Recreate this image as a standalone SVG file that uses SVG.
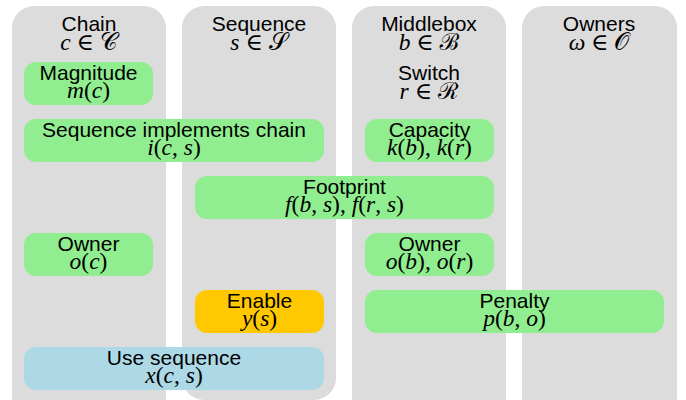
<svg xmlns="http://www.w3.org/2000/svg" width="686" height="400" viewBox="0 0 686 400">
<style>
.col{fill:#dcdcdc}
.g{fill:#90ee90}
.o{fill:#ffc800}
.b{fill:#add8e6}
.t{font-family:"Liberation Sans",Arial,sans-serif;font-size:21px;fill:#000;text-anchor:middle}
.m{font-family:"Liberation Serif","DejaVu Serif",serif;font-size:23.5px;fill:#000;text-anchor:middle}
.i{font-style:italic}
.s{font-family:"DejaVu Serif","Noto Sans",serif;font-style:normal}
</style>
<rect width="686" height="400" fill="#fff"/>
<g id="col-chain">
<rect class="col" x="12" y="6" width="154" height="420" rx="22"/>
<text class="t" x="89" y="31">Chain</text>
<text class="m" x="89" y="50"><tspan class="i">c</tspan> ∈ <tspan class="s">𝒞</tspan></text>
</g>
<g id="col-sequence">
<rect class="col" x="182" y="6" width="154" height="394" rx="22"/>
<text class="t" x="259" y="31">Sequence</text>
<text class="m" x="259" y="50"><tspan class="i">s</tspan> ∈ <tspan class="s">𝒮</tspan></text>
</g>
<g id="col-middlebox">
<rect class="col" x="352" y="6" width="154" height="420" rx="22"/>
<text class="t" x="429" y="31">Middlebox</text>
<text class="m" x="429" y="50"><tspan class="i">b</tspan> ∈ <tspan class="s">ℬ</tspan></text>
<text class="t" x="429" y="80">Switch</text>
<text class="m" x="429" y="99"><tspan class="i">r</tspan> ∈ <tspan class="s">ℛ</tspan></text>
</g>
<g id="col-owners">
<rect class="col" x="522" y="6" width="155" height="420" rx="22"/>
<text class="t" x="599" y="31">Owners</text>
<text class="m" x="599" y="50"><tspan class="i">ω</tspan> ∈ <tspan class="s">𝒪</tspan></text>
</g>
<g id="connectors"></g>
<g id="magnitude">
<rect class="g" x="24" y="62" width="129" height="43" rx="12"/>
<text class="t" x="88.5" y="80">Magnitude</text>
<text class="m" x="88.5" y="98"><tspan class="i">m</tspan>(<tspan class="i">c</tspan>)</text>
</g>
<g id="implements">
<rect class="g" x="24" y="119" width="300" height="43" rx="12"/>
<text class="t" x="174" y="137">Sequence implements chain</text>
<text class="m" x="174" y="155"><tspan class="i">i</tspan>(<tspan class="i">c</tspan>, <tspan class="i">s</tspan>)</text>
</g>
<g id="capacity">
<rect class="g" x="365" y="119" width="129" height="43" rx="12"/>
<text class="t" x="429.5" y="137">Capacity</text>
<text class="m" x="429.5" y="155"><tspan class="i">k</tspan>(<tspan class="i">b</tspan>), <tspan class="i">k</tspan>(<tspan class="i">r</tspan>)</text>
</g>
<g id="footprint">
<rect class="g" x="195" y="176" width="299" height="43" rx="12"/>
<text class="t" x="344.5" y="194">Footprint</text>
<text class="m" x="344.5" y="212"><tspan class="i">f</tspan>(<tspan class="i">b</tspan>, <tspan class="i">s</tspan>), <tspan class="i">f</tspan>(<tspan class="i">r</tspan>, <tspan class="i">s</tspan>)</text>
</g>
<g id="owner-chain">
<rect class="g" x="24" y="233" width="129" height="43" rx="12"/>
<text class="t" x="88.5" y="251">Owner</text>
<text class="m" x="88.5" y="269"><tspan class="i">o</tspan>(<tspan class="i">c</tspan>)</text>
</g>
<g id="owner-box">
<rect class="g" x="365" y="233" width="129" height="43" rx="12"/>
<text class="t" x="429.5" y="251">Owner</text>
<text class="m" x="429.5" y="269"><tspan class="i">o</tspan>(<tspan class="i">b</tspan>), <tspan class="i">o</tspan>(<tspan class="i">r</tspan>)</text>
</g>
<g id="enable">
<rect class="o" x="195" y="290" width="129" height="43" rx="12"/>
<text class="t" x="259.5" y="308">Enable</text>
<text class="m" x="259.5" y="326"><tspan class="i">y</tspan>(<tspan class="i">s</tspan>)</text>
</g>
<g id="penalty">
<rect class="g" x="365" y="290" width="299" height="43" rx="12"/>
<text class="t" x="514.5" y="308">Penalty</text>
<text class="m" x="514.5" y="326"><tspan class="i">p</tspan>(<tspan class="i">b</tspan>, <tspan class="i">o</tspan>)</text>
</g>
<g id="use-sequence">
<rect class="b" x="24" y="347" width="300" height="43" rx="12"/>
<text class="t" x="174" y="365">Use sequence</text>
<text class="m" x="174" y="383"><tspan class="i">x</tspan>(<tspan class="i">c</tspan>, <tspan class="i">s</tspan>)</text>
</g>
</svg>
